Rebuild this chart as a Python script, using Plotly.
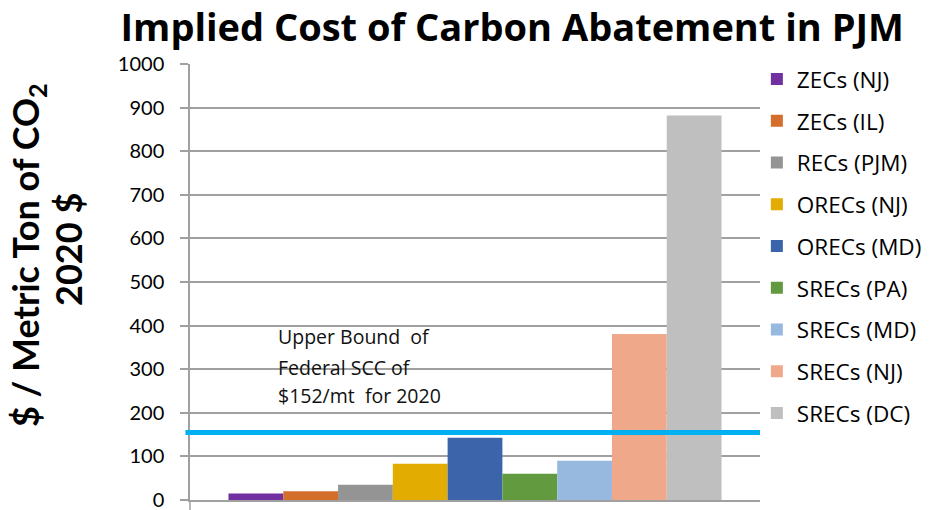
import plotly.graph_objects as go

series = ["ZECs (NJ)", "ZECs (IL)", "RECs (PJM)", "ORECs (NJ)", "ORECs (MD)",
          "SRECs (PA)", "SRECs (MD)", "SRECs (NJ)", "SRECs (DC)"]
values = [15, 20, 35, 83, 143, 60, 90, 381, 882]
colors = ["#7030A0", "#D46E2B", "#949494", "#E2AC00", "#3C64AB",
          "#629A3F", "#97B9E0", "#F0A88A", "#BFBFBF"]
scc_bound = 155
tick_vals = list(range(0, 1001, 100))
note_lines = ["Upper Bound  of", "Federal SCC of", "$152/mt  for 2020"]
note_y = [374, 305, 240]

F_TITLE = "Open Sans"
F_TEXT = "Open Sans"
F_TICK = "Lato"
F_YT = "Lato"

fig = go.Figure()
for name, v, c in zip(series, values, colors):
    fig.add_trace(go.Bar(x=[""], y=[v], name=name, marker=dict(color=c, line=dict(width=0)),
                         legendgroup=name))

fig.add_shape(type="line", xref="paper", yref="y", x0=-0.008, x1=1.0, y0=scc_bound, y1=scc_bound,
              line=dict(color="#00B0F0", width=5), layer="above")
fig.add_shape(type="line", xref="paper", yref="paper", x0=0, x1=0, y0=0, y1=-0.03,
              line=dict(color="#A0A0A0", width=1.5))

for txt, yy in zip(note_lines, note_y):
    fig.add_annotation(text=txt, xref="paper", yref="y", x=0.151, y=yy, xanchor="left",
                       yanchor="middle", showarrow=False, align="left",
                       font=dict(family=F_TEXT, size=19.5, color="#111111"))

# y-axis title as two rotated lines
fig.add_annotation(text="<b>$ / Metric Ton of CO<sub>2</sub></b>", xref="paper", yref="paper",
                   x=-0.284, y=0.562, xanchor="center", yanchor="middle", textangle=-90,
                   showarrow=False, font=dict(family=F_YT, size=36, color="black"))
fig.add_annotation(text="<b>2020 $</b>", xref="paper", yref="paper",
                   x=-0.213, y=0.575, xanchor="center", yanchor="middle", textangle=-90,
                   showarrow=False, font=dict(family=F_YT, size=36, color="black"))

fig.update_layout(
    width=933, height=510,
    margin=dict(l=190, r=173, t=64, b=10, autoexpand=False),
    paper_bgcolor="white", plot_bgcolor="white",
    barmode="group", bargap=0.135, bargroupgap=0,
    title=dict(text="<b>Implied Cost of Carbon Abatement in PJM</b>", x=0.549, xanchor="center",
               y=0.946, yanchor="middle",
               font=dict(family=F_TITLE, size=38, color="black")),
    font=dict(family=F_TEXT, color="black"),
    legend=dict(x=0.9945, xanchor="left", y=1.014, yanchor="top", traceorder="grouped",
                tracegroupgap=9.5, font=dict(family=F_TEXT, size=22.5, color="black"),
                itemwidth=30, bgcolor="rgba(0,0,0,0)", maxheight=480),
    yaxis=dict(range=[0, 1000], tickvals=tick_vals, showgrid=True, gridcolor="#A0A0A0", gridwidth=1.5,
               ticks="outside", ticklen=8, tickcolor="#A0A0A0", tickwidth=1.5,
               ticklabelstandoff=12, ticklabeloverflow="allow", automargin=False,
               showline=True, linecolor="#A0A0A0", linewidth=1.5,
               tickfont=dict(family=F_TICK, size=20, color="black"),
               zeroline=False),
    xaxis=dict(showticklabels=False, showline=True, linecolor="#A0A0A0", linewidth=1.5,
               ticks="", showgrid=False, automargin=False),
)

fig.write_html("out.html")
